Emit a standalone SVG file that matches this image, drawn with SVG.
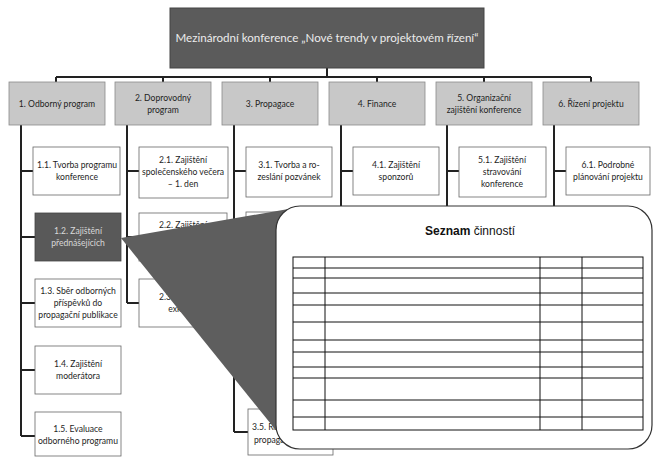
<svg xmlns="http://www.w3.org/2000/svg" width="655" height="459" viewBox="0 0 655 459">
<style>
  .top { fill: #5b5b5b; stroke: #444; stroke-width: 1; }
  .topt { fill: #ececec; font-family: Lato, "Liberation Sans", sans-serif; font-size: 11.6px; text-anchor: middle; }
  .l1 { fill: #c8c8c8; stroke: #8a8a8a; stroke-width: 0.8; }
  .l2 { fill: #ffffff; stroke: #666; stroke-width: 0.8; }
  .dark { fill: #595959; stroke: #444; stroke-width: 0.8; }
  .t { fill: #1e1e1e; font-family: Lato, "Liberation Sans", sans-serif; font-size: 8.6px; text-anchor: middle; }
  .tw { fill: #d8d8d8; font-family: Lato, "Liberation Sans", sans-serif; font-size: 8.6px; text-anchor: middle; }
  .ts { fill: #1e1e1e; font-family: Lato, "Liberation Sans", sans-serif; font-size: 8.6px; }
  .c { fill: none; stroke: #222; stroke-width: 2; }
  .wedge { fill: #5e5e5e; }
  .callout { fill: #ffffff; stroke: #333; stroke-width: 1.2; }
  .grid { fill: none; stroke: #111; stroke-width: 1; }
  .title { fill: #111; font-family: "Liberation Sans", Arial, sans-serif; font-size: 12px; }
</style>

<g id="connectors">
  <path class="c" d="M327 68 V77 M56 77 H591 M56 77 V82 M163 77 V82 M270 77 V82 M377 77 V82 M484 77 V82 M591 77 V82"/>
  <path class="c" d="M21 125 V436 M21 171 H33 M21 237 H35 M21 303 H35 M21 370 H35 M21 436 H35"/>
  <path class="c" d="M127 125 V303 M127 171 H139 M127 237 H139 M127 303 H139"/>
  <path class="c" d="M234 125 V432 M234 171 H246 M234 237 H246 M234 432 H248"/>
  <path class="c" d="M341 125 V215 M341 171 H353"/>
  <path class="c" d="M447 125 V215 M447 171 H459"/>
  <path class="c" d="M554 125 V215 M554 171 H566"/>
</g>

<g id="n0">
  <rect class="top" x="170" y="8" width="314" height="60"/>
  <text class="topt" x="327" y="42">Mezinárodní konference „Nové trendy v projektovém řízení“</text>
</g>

<g id="n1"><rect class="l1" x="9" y="82" width="96" height="43"/><text class="t" x="57" y="107">1. Odborný program</text></g>
<g id="n2"><rect class="l1" x="115" y="82" width="96" height="43"/><text class="t" x="163" y="101">2. Doprovodný</text><text class="t" x="163" y="113">program</text></g>
<g id="n3"><rect class="l1" x="222" y="82" width="96" height="43"/><text class="t" x="270" y="107">3. Propagace</text></g>
<g id="n4"><rect class="l1" x="329" y="82" width="96" height="43"/><text class="t" x="377" y="107">4. Finance</text></g>
<g id="n5"><rect class="l1" x="436" y="82" width="96" height="43"/><text class="t" x="484" y="101">5. Organizační</text><text class="t" x="484" y="113">zajištění konference</text></g>
<g id="n6"><rect class="l1" x="543" y="82" width="96" height="43"/><text class="t" x="591" y="107">6. Řízení projektu</text></g>

<g id="n11"><rect class="l2" x="33" y="147" width="87" height="48"/><text class="t" x="77" y="168">1.1. Tvorba programu</text><text class="t" x="77" y="180">konference</text></g>
<g id="n12"><rect class="dark" x="35" y="213" width="86" height="48"/><text class="tw" x="78" y="234">1.2. Zajištění</text><text class="tw" x="78" y="246">přednášejících</text></g>
<g id="n13"><rect class="l2" x="35" y="279" width="86" height="48"/><text class="t" x="78" y="294">1.3. Sběr odborných</text><text class="t" x="78" y="306">příspěvků do</text><text class="t" x="78" y="318">propagační publikace</text></g>
<g id="n14"><rect class="l2" x="35" y="346" width="86" height="48"/><text class="t" x="78" y="367">1.4. Zajištění</text><text class="t" x="78" y="379">moderátora</text></g>
<g id="n15"><rect class="l2" x="35" y="412" width="86" height="44"/><text class="t" x="78" y="432">1.5. Evaluace</text><text class="t" x="78" y="444">odborného programu</text></g>

<g id="n21"><rect class="l2" x="139" y="147" width="89" height="51"/><text class="t" x="183" y="163">2.1. Zajištění</text><text class="t" x="183" y="175">společenského večera</text><text class="t" x="183" y="187">– 1. den</text></g>
<g id="n22"><rect class="l2" x="139" y="213" width="88" height="48"/><text class="t" x="183" y="228">2.2. Zajištění</text></g>
<g id="n23"><rect class="l2" x="139" y="279" width="88" height="48"/><text class="t" x="183" y="300">2.3. Zajištění</text><text class="t" x="183" y="312">exkurze</text></g>

<g id="n31"><rect class="l2" x="246" y="147" width="86" height="50"/><text class="t" x="289" y="168">3.1. Tvorba a ro-</text><text class="t" x="289" y="180">zeslání pozvánek</text></g>
<g id="n32"><rect class="l2" x="246" y="212" width="86" height="48"/></g>
<g id="n35"><rect class="l2" x="248" y="409" width="85" height="46"/><text class="ts" x="252" y="430">3.5. Realizace</text><text class="ts" x="254" y="443">propagace</text></g>

<g id="n41"><rect class="l2" x="353" y="147" width="86" height="48"/><text class="t" x="396" y="168">4.1. Zajištění</text><text class="t" x="396" y="180">sponzorů</text></g>
<g id="n51"><rect class="l2" x="459" y="147" width="87" height="50"/><text class="t" x="502" y="163">5.1. Zajištění</text><text class="t" x="502" y="175">stravování</text><text class="t" x="502" y="187">konference</text></g>
<g id="n61"><rect class="l2" x="566" y="147" width="84" height="48"/><text class="t" x="608" y="168">6.1.  Podrobné</text><text class="t" x="608" y="180">plánování projektu</text></g>

<g id="callout">
  <polygon class="wedge" points="121,238 300,207 300,420 279,434"/>
  <rect class="callout" x="276" y="206" width="376" height="243" rx="24" ry="24"/>
  <text class="title" x="425" y="235"><tspan font-weight="bold">Seznam</tspan> činností</text>
  <g class="grid">
    <rect x="293" y="257" width="350" height="173"/>
    <path d="M325 257 V430 M540 257 V430 M582 257 V430"/>
    <path d="M293 268 H643 M293 278 H643 M293 293 H643 M293 305 H643 M293 322 H643 M293 340 H643 M293 352 H643 M293 367 H643 M293 378 H643 M293 400 H643 M293 417 H643"/>
  </g>
</g>
</svg>
